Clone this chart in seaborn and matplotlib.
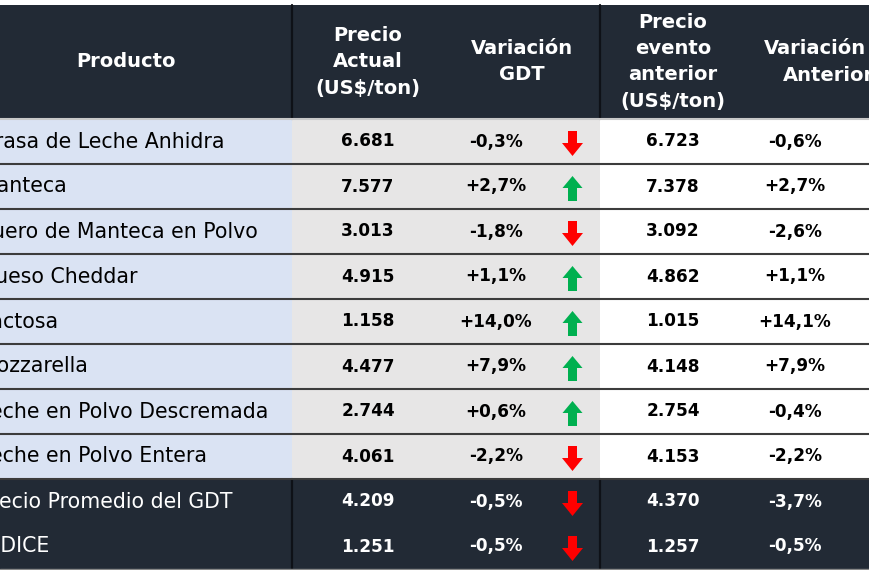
import matplotlib
matplotlib.use("Agg")
import matplotlib.pyplot as plt
from matplotlib.patches import FancyArrow
import seaborn as sns

# ---------------- data ----------------
productos = ["Grasa de Leche Anhidra", "Manteca", "Suero de Manteca en Polvo",
             "Queso Cheddar", "Lactosa", "Mozzarella",
             "Leche en Polvo Descremada", "Leche en Polvo Entera",
             "Precio Promedio del GDT", "ÍNDICE"]
precio_actual = ["6.681", "7.577", "3.013", "4.915", "1.158", "4.477",
                 "2.744", "4.061", "4.209", "1.251"]
variacion_gdt = [-0.3, 2.7, -1.8, 1.1, 14.0, 7.9, 0.6, -2.2, -0.5, -0.5]
precio_anterior = ["6.723", "7.378", "3.092", "4.862", "1.015", "4.148",
                   "2.754", "4.153", "4.370", "1.257"]
variacion_anterior = [-0.6, 2.7, -2.6, 1.1, 14.1, 7.9, -0.4, -2.2, -3.7, -0.5]
encabezados = ["Producto", "Precio\nActual\n(US$/ton)", "Variación\nGDT",
               "Precio\nevento\nanterior\n(US$/ton)", "Variación"]
n_body = 8  # rows with light background; the rest are summary rows


def fmt_pct(v):
    s = f"{abs(v):.1f}".replace(".", ",")
    return ("+" if v > 0 else "-") + s + "%"


# ---------------- style ----------------
sns.set_theme(style="white")
plt.rcParams["font.family"] = ["DejaVu Sans"]

DARK = "#222a35"
BLUE = "#dae3f3"
GREY = "#e7e6e6"
LINE = "#3c3c3c"
RED = "#ff0000"
GREEN = "#00b050"

W, H = 870, 570
fig = plt.figure(figsize=(8.7, 5.7), dpi=100)
ax = fig.add_axes([0, 0, 1, 1])
ax.set_xlim(0, W)
ax.set_ylim(H, 0)
ax.axis("off")

# layout
head_top, head_bot = 5, 118.5
row_h = 45
col_edges = [-300, 292, 600, 900]
x_name = -21
x_pa, x_vg, x_arrow, x_pe, x_va = 368, 496, 572.5, 673, 795

# header
ax.fill_between([0, W], head_top, head_bot, color=DARK, lw=0)
for xe in col_edges[1:3]:
    ax.plot([xe, xe], [head_top, head_bot], color="#0e1117", lw=1.6)
hy = (head_top + head_bot) / 2
hkw = dict(color="white", fontsize=14, fontweight="bold", ha="center",
           va="center", linespacing=1.5)
ax.text(126, hy, encabezados[0], **hkw)
ax.text(x_pa, hy, encabezados[1], **hkw)
ax.text(522, hy, encabezados[2], **hkw)
ax.text(x_pe, hy, encabezados[3], **hkw)
ax.text(815, hy - 13.5, encabezados[4], **hkw)
ax.text(828, hy + 13.5, "Anterior", **hkw)

n = len(productos)
for i in range(n):
    y0 = head_bot + i * row_h
    y1 = y0 + row_h
    yc = (y0 + y1) / 2 + 0.5
    body = i < n_body
    if body:
        ax.fill_between([0, col_edges[1]], y0, y1, color=BLUE, lw=0)
        ax.fill_between([col_edges[1], col_edges[2]], y0, y1, color=GREY, lw=0)
        ax.fill_between([col_edges[2], W], y0, y1, color="white", lw=0)
        tc = "black"
    else:
        ax.fill_between([0, W], y0, y1, color=DARK, lw=0)
        for xe in col_edges[1:3]:
            ax.plot([xe, xe], [y0, y1], color="#0e1117", lw=1.6)
        tc = "white"
    ax.text(x_name, yc, productos[i], color=tc, fontsize=14.8, ha="left", va="center")
    bkw = dict(color=tc, fontsize=12.2, fontweight="bold", ha="center", va="center")
    ax.text(x_pa, yc, precio_actual[i], **bkw)
    ax.text(x_vg, yc, fmt_pct(variacion_gdt[i]), **bkw)
    ax.text(x_pe, yc, precio_anterior[i], **bkw)
    ax.text(x_va, yc, fmt_pct(variacion_anterior[i]), **bkw)
    # arrow
    up = variacion_gdt[i] > 0
    L = 25
    ac = yc + 2
    if up:
        arr = FancyArrow(x_arrow, ac + L / 2, 0, -L, width=9, head_width=20,
                         head_length=12, length_includes_head=True,
                         color=GREEN, lw=0)
    else:
        arr = FancyArrow(x_arrow, ac - L / 2, 0, L, width=9, head_width=21,
                         head_length=13, length_includes_head=True,
                         color=RED, lw=0)
    ax.add_patch(arr)

# row separator lines in body
for i in range(n_body + 1):
    y = head_bot + i * row_h
    ax.plot([0, W], [y, y], color=LINE if i > 0 else "#c8c8c8", lw=1.5)
bottom = head_bot + n * row_h
ax.plot([0, W], [bottom, bottom], color="#888888", lw=1.0)

fig.savefig("out.png", dpi=100, facecolor="white")
